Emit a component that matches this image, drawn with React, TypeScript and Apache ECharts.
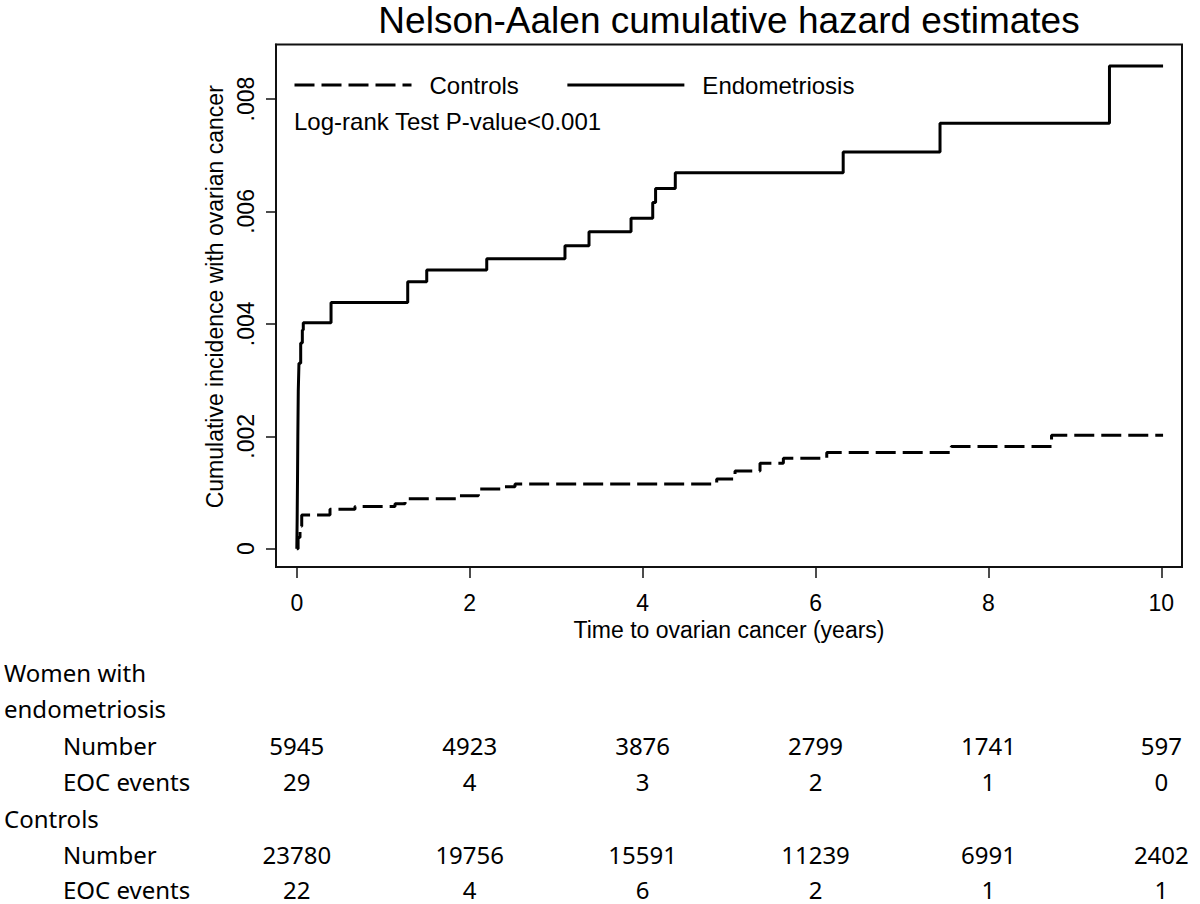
import React, { useEffect, useRef } from "react";
import * as echarts from "echarts";

const titleText = "Nelson-Aalen cumulative hazard estimates";
const xAxisTitle = "Time to ovarian cancer (years)";
const yAxisTitle = "Cumulative incidence with ovarian cancer";
const annotation = "Log-rank Test P-value<0.001";
const seriesNames = ["Controls", "Endometriosis"];
const xTicks = [0, 2, 4, 6, 8, 10];
const yTicks = [0, 0.002, 0.004, 0.006, 0.008];

// Nelson-Aalen step estimates (time in years, cumulative hazard)
const controlsT = [0, 0.015, 0.037, 0.057, 0.384, 0.673, 1.136, 1.252, 1.85, 2.1, 2.37, 2.524, 4.857, 5.069, 5.358, 5.628, 6.13, 7.57, 8.73, 10.02];
const controlsV = [0, 0.0002, 0.0004, 0.0006, 0.0007, 0.00075, 0.0008, 0.00089, 0.00094, 0.00106, 0.0011, 0.00115, 0.00124, 0.00138, 0.00152, 0.00161, 0.00171, 0.00182, 0.00202, 0.00202];
const endoT = [0, 0.004, 0.008, 0.012, 0.017, 0.025, 0.045, 0.064, 0.075, 0.396, 1.283, 1.503, 2.197, 3.102, 3.38, 3.866, 4.117, 4.15, 4.378, 6.32, 7.44, 9.4, 10.02];
const endoV = [0, 0.0005, 0.0012, 0.002, 0.0028, 0.0033, 0.00366, 0.00389, 0.00402, 0.00438, 0.00475, 0.00496, 0.00516, 0.00539, 0.00564, 0.00588, 0.00616, 0.00641, 0.00669, 0.00706, 0.00757, 0.00859, 0.00859];

// Risk table
const tableTimes = [0, 2, 4, 6, 8, 10];
const endoNumber = [5945, 4923, 3876, 2799, 1741, 597];
const endoEvents = [29, 4, 3, 2, 1, 0];
const ctrlNumber = [23780, 19756, 15591, 11239, 6991, 2402];
const ctrlEvents = [22, 4, 6, 2, 1, 1];
const groupLabels = ["Women with", "endometriosis", "Controls"];
const rowLabels = ["Number", "EOC events"];

const FONT = "'Liberation Sans', Arial, sans-serif";
const TFONT = "'Noto Sans', 'Open Sans', sans-serif";

export default function App() {
  const ref = useRef<HTMLDivElement>(null);
  useEffect(() => {
    if (!ref.current) return;
    const chart = echarts.init(ref.current, undefined, { renderer: "svg" });
    const pair = (t: number[], v: number[]) => t.map((x, i) => [x, v[i]]);
    chart.setOption({
      animation: false,
      backgroundColor: "#fff",
      textStyle: { fontFamily: FONT, color: "#000" },
      title: {
        text: titleText,
        left: 729,
        top: 2,
        padding: 0,
        textAlign: "center",
        textStyle: { fontSize: 37, fontWeight: "normal", color: "#000", fontFamily: FONT },
      },
      legend: {
        data: seriesNames,
        left: 293,
        top: 73,
        padding: 0,
        itemWidth: 117,
        itemHeight: 24,
        itemGap: 47,
        selectedMode: false,
        itemStyle: { opacity: 0, borderWidth: 0 },
        lineStyle: { width: 3 },
        textStyle: { fontSize: 24, color: "#000", fontFamily: FONT, padding: [0, 0, 0, 13] },
      },
      grid: {
        left: 276,
        top: 44.5,
        right: 18,
        bottom: 337,
        show: true,
        borderColor: "#111",
        borderWidth: 2,
        containLabel: false,
      },
      xAxis: {
        type: "value",
        min: -0.2406,
        max: 10.239,
        name: xAxisTitle,
        nameLocation: "middle",
        nameGap: 46,
        nameTextStyle: { fontSize: 23, color: "#000", fontFamily: FONT },
        axisLine: { show: true, onZero: false, lineStyle: { color: "#111", width: 2 } },
        axisTick: { show: true, length: 11, customValues: xTicks, lineStyle: { color: "#111", width: 1.5 } },
        axisLabel: { customValues: xTicks, fontSize: 23, color: "#000", margin: 24, fontFamily: FONT },
        splitLine: { show: false },
      },
      yAxis: {
        type: "value",
        min: -0.000326,
        max: 0.008971,
        name: yAxisTitle,
        nameLocation: "middle",
        nameGap: 46,
        nameTextStyle: { fontSize: 23, color: "#000", fontFamily: FONT, padding: [0, 0, 0, 18] },
        axisLine: { show: true, onZero: false, lineStyle: { color: "#111", width: 2 } },
        axisTick: { show: true, length: 10, customValues: yTicks, lineStyle: { color: "#111", width: 1.5 } },
        axisLabel: {
          customValues: yTicks,
          rotate: 90,
          fontSize: 23,
          color: "#000",
          margin: 19,
          fontFamily: FONT,
          formatter: (v: number) => (v === 0 ? "0" : v.toFixed(3).replace(/^0/, "")),
        },
        splitLine: { show: false },
      },
      series: [
        {
          name: seriesNames[0],
          type: "line",
          step: "end",
          symbol: "none",
          data: pair(controlsT, controlsV),
          lineStyle: { color: "#000", width: 3, type: [20, 7] },
          itemStyle: { color: "#000" },
        },
        {
          name: seriesNames[1],
          type: "line",
          step: "end",
          symbol: "none",
          data: pair(endoT, endoV),
          lineStyle: { color: "#000", width: 3, type: "solid" },
          itemStyle: { color: "#000" },
        },
      ],
    });

    const colX = tableTimes.map((t) => chart.convertToPixel({ xAxisIndex: 0 }, t) as number);
    const rowY = [672, 708.5, 745, 781.5, 818, 854.5, 889];
    const txt = (text: string, x: number, y: number, align: string) => ({
      type: "text",
      x,
      y,
      silent: true,
      style: {
        text,
        fill: "#000",
        fontSize: 24,
        fontFamily: TFONT,
        align,
        verticalAlign: "middle",
        textAlign: align,
        textVerticalAlign: "middle",
      },
    });
    const elements: any[] = [];
    elements.push(txt(groupLabels[0], 4, rowY[0], "left"));
    elements.push(txt(groupLabels[1], 4, rowY[1], "left"));
    elements.push(txt(rowLabels[0], 63, rowY[2], "left"));
    elements.push(txt(rowLabels[1], 63, rowY[3], "left"));
    elements.push(txt(groupLabels[2], 4, rowY[4], "left"));
    elements.push(txt(rowLabels[0], 63, rowY[5], "left"));
    elements.push(txt(rowLabels[1], 63, rowY[6], "left"));
    const rows = [
      [endoNumber, rowY[2]],
      [endoEvents, rowY[3]],
      [ctrlNumber, rowY[5]],
      [ctrlEvents, rowY[6]],
    ] as [number[], number][];
    rows.forEach(([vals, y]) => {
      vals.forEach((v, i) => elements.push(txt(String(v), colX[i], y, "center")));
    });
    elements.push({
      type: "text",
      x: 294,
      y: 121,
      silent: true,
      style: {
        text: annotation,
        fill: "#000",
        fontSize: 24,
        fontFamily: FONT,
        align: "left",
        verticalAlign: "middle",
        textAlign: "left",
        textVerticalAlign: "middle",
      },
    });
    chart.setOption({ graphic: { elements } });
    return () => chart.dispose();
  }, []);
  return (
    <div
      ref={ref}
      style={{ position: "absolute", left: 0, top: 0, width: 1200, height: 904, background: "#fff" }}
    />
  );
}
